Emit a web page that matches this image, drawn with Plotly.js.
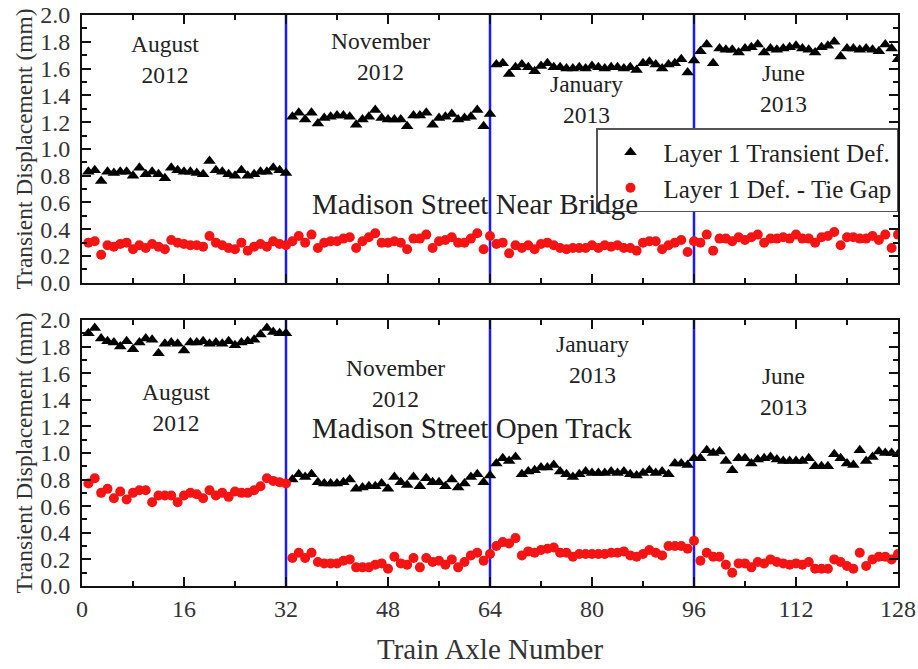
<!DOCTYPE html>
<html>
<head>
<meta charset="utf-8">
<script src="https://cdn.plot.ly/plotly-3.0.1.min.js"></script>
<style>
html,body{margin:0;padding:0;background:#fff;}
#chart{width:918px;height:669px;}
</style>
</head>
<body>
<div id="chart"></div>
<script>
// Train axle numbers (x categories)
const axle = [1,2,3,4,5,6,7,8,9,10,11,12,13,14,15,16,17,18,19,20,21,22,23,24,25,26,27,28,29,30,31,32,
33,34,35,36,37,38,39,40,41,42,43,44,45,46,47,48,49,50,51,52,53,54,55,56,57,58,59,60,61,62,63,64,
65,66,67,68,69,70,71,72,73,74,75,76,77,78,79,80,81,82,83,84,85,86,87,88,89,90,91,92,93,94,95,96,
97,98,99,100,101,102,103,104,105,106,107,108,109,110,111,112,113,114,115,116,117,118,119,120,121,122,123,124,125,126,127,128];

// Madison Street Near Bridge
const nearBridgeTransient = [
0.83,0.84,0.76,0.83,0.82,0.83,0.83,0.80,0.86,0.81,0.83,0.81,0.78,0.86,0.84,0.83,0.83,0.82,0.81,0.91,0.84,0.83,0.81,0.80,0.84,0.80,0.81,0.83,0.83,0.86,0.84,0.82,
1.24,1.27,1.22,1.27,1.19,1.23,1.24,1.25,1.25,1.24,1.18,1.22,1.24,1.29,1.23,1.22,1.22,1.22,1.17,1.25,1.25,1.27,1.18,1.23,1.24,1.26,1.22,1.23,1.24,1.29,1.17,1.26,
1.63,1.64,1.56,1.61,1.63,1.61,1.58,1.62,1.64,1.61,1.61,1.60,1.60,1.61,1.60,1.62,1.61,1.60,1.61,1.61,1.60,1.61,1.59,1.64,1.65,1.63,1.60,1.63,1.64,1.67,1.57,1.66,
1.73,1.78,1.64,1.75,1.74,1.74,1.72,1.75,1.76,1.78,1.72,1.75,1.74,1.75,1.76,1.77,1.75,1.74,1.72,1.76,1.77,1.80,1.69,1.75,1.75,1.74,1.75,1.74,1.73,1.78,1.75,1.67];
const nearBridgeTieGap = [
0.30,0.31,0.21,0.28,0.27,0.29,0.30,0.25,0.28,0.26,0.29,0.27,0.25,0.32,0.30,0.29,0.28,0.28,0.27,0.35,0.30,0.28,0.26,0.25,0.30,0.24,0.27,0.29,0.27,0.31,0.29,0.28,
0.31,0.35,0.30,0.36,0.26,0.30,0.31,0.31,0.33,0.34,0.26,0.31,0.34,0.37,0.30,0.30,0.31,0.30,0.25,0.33,0.33,0.36,0.26,0.31,0.32,0.34,0.30,0.30,0.33,0.37,0.25,0.35,
0.29,0.30,0.22,0.28,0.26,0.28,0.25,0.29,0.30,0.28,0.26,0.25,0.26,0.26,0.26,0.28,0.26,0.28,0.27,0.28,0.26,0.26,0.24,0.30,0.31,0.31,0.25,0.28,0.30,0.32,0.23,0.31,
0.30,0.36,0.24,0.33,0.33,0.31,0.34,0.32,0.34,0.36,0.30,0.33,0.33,0.34,0.33,0.36,0.33,0.33,0.30,0.34,0.35,0.38,0.28,0.34,0.34,0.33,0.33,0.35,0.32,0.36,0.26,0.36];

// Madison Street Open Track
const openTrackTransient = [
1.90,1.94,1.86,1.84,1.83,1.80,1.84,1.78,1.83,1.86,1.85,1.75,1.82,1.83,1.82,1.77,1.83,1.83,1.84,1.82,1.83,1.82,1.84,1.81,1.83,1.84,1.85,1.89,1.94,1.91,1.90,1.90,
0.80,0.84,0.82,0.84,0.78,0.77,0.77,0.77,0.78,0.80,0.73,0.74,0.75,0.75,0.77,0.73,0.82,0.78,0.76,0.82,0.75,0.81,0.78,0.78,0.75,0.80,0.74,0.77,0.82,0.84,0.78,0.83,
0.92,0.96,0.94,0.97,0.84,0.86,0.87,0.89,0.89,0.91,0.86,0.84,0.82,0.84,0.86,0.85,0.85,0.85,0.86,0.85,0.86,0.84,0.83,0.85,0.87,0.85,0.86,0.84,0.92,0.92,0.91,0.96,
0.96,1.02,1.00,1.01,0.94,0.87,0.96,0.96,0.92,0.95,0.96,0.97,0.95,0.94,0.94,0.94,0.94,0.96,0.90,0.90,0.90,0.99,0.96,0.92,0.91,1.02,0.94,0.97,1.01,1.00,1.00,0.99];
const openTrackTieGap = [
0.77,0.81,0.70,0.73,0.66,0.71,0.65,0.70,0.72,0.72,0.63,0.68,0.68,0.68,0.63,0.68,0.70,0.69,0.66,0.72,0.68,0.70,0.67,0.71,0.70,0.70,0.72,0.75,0.81,0.79,0.78,0.77,
0.21,0.25,0.21,0.25,0.18,0.17,0.17,0.17,0.19,0.20,0.14,0.14,0.14,0.16,0.17,0.13,0.22,0.17,0.16,0.21,0.14,0.21,0.18,0.19,0.16,0.20,0.14,0.18,0.23,0.25,0.19,0.24,
0.30,0.33,0.32,0.36,0.23,0.26,0.25,0.27,0.28,0.29,0.25,0.25,0.22,0.24,0.24,0.24,0.24,0.24,0.25,0.25,0.26,0.23,0.22,0.24,0.27,0.25,0.23,0.30,0.30,0.30,0.28,0.34,
0.19,0.25,0.22,0.22,0.16,0.10,0.17,0.17,0.14,0.18,0.17,0.20,0.18,0.17,0.16,0.17,0.16,0.18,0.13,0.13,0.13,0.20,0.18,0.15,0.13,0.25,0.15,0.20,0.22,0.22,0.20,0.24];

// Test period boundaries and labels
const boundaries = [32, 64, 96];
const periodLabels = ["August<br>2012", "November<br>2012", "January<br>2013", "June<br>2013"];
const topLabelPos = [[13.0,1.67],[46.9,1.69],[79.2,1.37],[110,1.45]];
const bottomLabelPos = [[14.7,1.34],[49.1,1.52],[80,1.70],[110.1,1.46]];
const panelTitles = ["Madison Street Near Bridge", "Madison Street Open Track"];
const panelTitlePos = [[61.6,0.59],[61.2,1.19]];
const seriesNames = ["Layer 1 Transient Def.", "Layer 1 Def. - Tie Gap"];
const xTicks = [0,16,32,48,64,80,96,112,128];

const FONT = "Liberation Serif, Times New Roman, serif";
const RED = "#f41414";

function tri(y, xa, ya, show){
  return {x: axle, y: y, xaxis: xa, yaxis: ya, type:"scatter", mode:"markers",
    name: seriesNames[0], showlegend: show, legendgroup:"a",
    marker:{symbol:"triangle-up", size:11, color:"#000"}};
}
function dot(y, xa, ya, show){
  return {x: axle, y: y, xaxis: xa, yaxis: ya, type:"scatter", mode:"markers",
    name: seriesNames[1], showlegend: show, legendgroup:"b",
    marker:{symbol:"circle", size:10, color:RED}};
}

const data = [
  tri(nearBridgeTransient, "x", "y", true),
  dot(nearBridgeTieGap, "x", "y", true),
  tri(openTrackTransient, "x2", "y2", false),
  dot(openTrackTieGap, "x2", "y2", false)
];

const axCommon = {
  showline:true, linecolor:"#111", linewidth:2, mirror:"ticks",
  ticks:"inside", ticklen:9, tickwidth:2, tickcolor:"#111",
  showgrid:false, zeroline:false,
  tickfont:{family:FONT, size:24, color:"#333"}
};
function xAx(extra){
  return Object.assign({}, axCommon, {range:[0,128], tickmode:"array", tickvals:xTicks,
    minor:{dtick:8, tick0:0, ticks:"inside", ticklen:5, tickwidth:2, tickcolor:"#111", showgrid:false}}, extra);
}
function yAx(extra){
  return Object.assign({}, axCommon, {range:[0,2], dtick:0.2, tick0:0, tickformat:".1f",
    ticklabelstandoff:5,
    minor:{dtick:0.1, tick0:0, ticks:"inside", ticklen:5, tickwidth:2, tickcolor:"#111", showgrid:false},
    title:{text:"Transient Displacement (mm)", font:{family:FONT, size:23.5, color:"#333"}, standoff:1}}, extra);
}

const shapes = [];
boundaries.forEach(b => {
  ["y","y2"].forEach((ya, i) => {
    shapes.push({type:"line", xref: i===0 ? "x" : "x2", yref: ya + " domain",
      x0:b, x1:b, y0:0, y1:1, line:{color:"#1a1aff", width:2.5}, layer:"below"});
  });
});

const annotations = [];
periodLabels.forEach((t,i) => {
  annotations.push({text:t, x:topLabelPos[i][0], y:topLabelPos[i][1], xref:"x", yref:"y",
    showarrow:false, font:{family:FONT, size:23.5, color:"#222"}});
  annotations.push({text:t, x:bottomLabelPos[i][0], y:bottomLabelPos[i][1], xref:"x2", yref:"y2",
    showarrow:false, font:{family:FONT, size:23.5, color:"#222"}});
});
annotations.push({text:panelTitles[0], x:panelTitlePos[0][0], y:panelTitlePos[0][1], xref:"x", yref:"y",
  showarrow:false, font:{family:FONT, size:29, color:"#222"}});
annotations.push({text:panelTitles[1], x:panelTitlePos[1][0], y:panelTitlePos[1][1], xref:"x2", yref:"y2",
  showarrow:false, font:{family:FONT, size:29, color:"#222"}});

const layout = {
  width:918, height:669,
  margin:{l:82, r:20, t:15, b:83},
  paper_bgcolor:"#fff", plot_bgcolor:"#fff",
  showlegend:true,
  legend:{x:1, y:0.802, xanchor:"right", yanchor:"top",
    bgcolor:"#fff", bordercolor:"#555", borderwidth:1.5, itemwidth:56,
    font:{family:FONT, size:25, color:"#222"}, tracegroupgap:0},
  xaxis: xAx({domain:[0,1], anchor:"y", showticklabels:false}),
  yaxis: yAx({domain:[0.531,1], anchor:"x"}),
  xaxis2: xAx({domain:[0,1], anchor:"y2", showticklabels:true,
    title:{text:"Train Axle Number", font:{family:FONT, size:29, color:"#333"}, standoff:18}}),
  yaxis2: yAx({domain:[0,0.466], anchor:"x2"}),
  shapes: shapes,
  annotations: annotations
};

Plotly.newPlot("chart", data, layout, {displayModeBar:false, staticPlot:true});
</script>
</body>
</html>
